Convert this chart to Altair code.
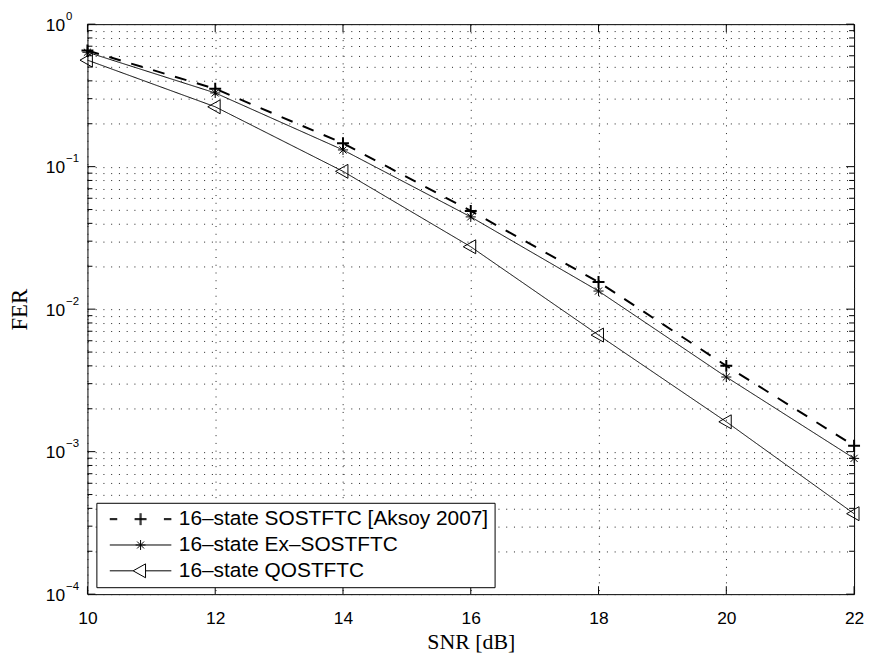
import altair as alt
import pandas as pd

# ---- data ----
snr = [10, 12, 14, 16, 18, 20, 22]
fer_sostftc = [0.653, 0.352, 0.146, 0.0489, 0.0155, 0.0040, 0.0011]
fer_ex = [0.635, 0.329, 0.131, 0.0444, 0.0134, 0.00334, 0.000897]
fer_q = [0.559, 0.263, 0.0927, 0.0274, 0.00658, 0.00162, 0.000367]
series_names = [
    "16–state SOSTFTC [Aksoy 2007]",
    "16–state Ex–SOSTFTC",
    "16–state QOSTFTC",
]
x_ticks = [10, 12, 14, 16, 18, 20, 22]
y_major = [1e-4, 1e-3, 1e-2, 1e-1, 1.0]
y_minor = [k * 10.0 ** e for e in range(-4, 0) for k in range(2, 10)]

rows = []
for name, vals in zip(series_names, [fer_sostftc, fer_ex, fer_q]):
    for s, f in zip(snr, vals):
        rows.append({"series": name, "snr": s, "fer": f})
df = pd.DataFrame(rows)

W, H = 772, 574
SANS = "Liberation Sans"
SERIF = "Liberation Serif"

xs = alt.Scale(domain=[10, 22], nice=False, zero=False)
ys = alt.Scale(type="log", domain=[1e-4, 1], nice=False)

marker_paths = [
    "M-1,0H1M0,-1V1",
    "M-0.85,0H0.85M0,-0.85V0.85M-0.6,-0.6L0.6,0.6M-0.6,0.6L0.6,-0.6",
    "M-1.25,0L0.83,-1.17L0.83,1.17Z",
]
legend_paths = [
    "M-6.2,-0.1H-4.7M-6.2,0.1H-4.7M4.7,-0.1H6.2M4.7,0.1H6.2"
    "M-1.2,-0.1H1.2M-1.2,0.1H1.2M-0.1,-1.2V1.2M0.1,-1.2V1.2",
    "M-6.2,0H6.2M-1,0H1M0,-1V1M-0.7,-0.7L0.7,0.7M-0.7,0.7L0.7,-0.7",
    "M-6.2,0H-1.5M1,0H6.2M-1.5,0L1,-1.4L1,1.4Z",
]

all_y_vals = sorted(y_major + y_minor)
is_decade = "abs(log(datum.value)/LN10 - round(log(datum.value)/LN10)) < 1e-6"

x_axis_main = alt.Axis(
    values=x_ticks, grid=True, gridDash=[1, 6.8], gridColor="#222", gridWidth=1,
    ticks=False, tickSize=0, domain=False, labelFlush=False, labelOverlap=False,
    labelFont=SANS, labelFontSize=17.5, labelColor="black", labelBaseline="top",
    labelPadding=16, format="d",
    title="SNR [dB]", titleFont=SERIF, titleFontSize=22, titleFontWeight="normal",
    titleColor="black", titleX=W / 2, titleY=48, titleBaseline="middle", titleAlign="center",
)
y_axis_main = alt.Axis(
    orient="left", values=all_y_vals, grid=True, gridDash=[1, 6.8], gridColor="#222",
    gridWidth=1, ticks=False, tickSize=0, domain=False, labelOverlap=False, labelFlush=False,
    labelExpr=is_decade + " ? '10' : ''",
    labelFont=SANS, labelFontSize=17.5, labelColor="black", labelAlign="right",
    labelBaseline="middle", labelPadding=23, labelOffset=1,
    title="FER", titleFont=SERIF, titleFontSize=23, titleFontWeight="normal",
    titleColor="black", titleAngle=270, titleX=-68, titleY=H / 2,
    titleBaseline="middle", titleAlign="center",
)
y_axis_exp = alt.Axis(
    orient="left", values=y_major, grid=False, ticks=False, tickSize=0, domain=False,
    labelOverlap=False, labelFlush=False,
    labelExpr="datum.value >= 1 ? '0' : '−' + format(-round(log(datum.value)/LN10), 'd')",
    labelFont=SANS, labelFontSize=11.5, labelColor="black", labelAlign="left",
    labelBaseline="middle", labelPadding=22, labelOffset=-8, title=None,
)

sw_scale = alt.Scale(type="ordinal", domain=series_names, range=[2, 1, 1])

lines = alt.Chart(df).mark_line(color="black").encode(
    x=alt.X("snr:Q", scale=xs, axis=x_axis_main),
    y=alt.Y("fer:Q", scale=ys, axis=y_axis_main),
    strokeDash=alt.StrokeDash(
        "series:N",
        scale=alt.Scale(domain=series_names, range=[[12, 11], [1, 0], [1, 0]]),
        legend=None,
    ),
    strokeWidth=alt.StrokeWidth("series:N", scale=sw_scale, legend=None),
    order="snr:Q",
)

points = alt.Chart(df).mark_point(filled=False, size=144, color="black", opacity=1).encode(
    x=alt.X("snr:Q", scale=xs, axis=None),
    y=alt.Y("fer:Q", scale=ys, axis=y_axis_exp),
    shape=alt.Shape("series:N", scale=alt.Scale(domain=series_names, range=marker_paths), legend=None),
    strokeWidth=alt.StrokeWidth("series:N", scale=sw_scale, legend=None),
)

tx = pd.DataFrame({"snr": x_ticks})
tyM = pd.DataFrame({"fer": y_major})
tym = pd.DataFrame({"fer": y_minor})


def xtick(y0, y1):
    return alt.Chart(tx).mark_rule(color="black", strokeWidth=1).encode(
        x=alt.X("snr:Q", scale=xs, axis=None), y=alt.value(y0), y2=alt.value(y1)
    )


def ytick(data, x0, x1):
    return alt.Chart(data).mark_rule(color="black", strokeWidth=1).encode(
        y=alt.Y("fer:Q", scale=ys, axis=None), x=alt.value(x0), x2=alt.value(x1)
    )


ticks = [
    xtick(H - 8, H), xtick(0, 8),
    ytick(tyM, 0, 8), ytick(tym, 0, 5),
    ytick(tyM, W - 8, W), ytick(tym, W - 5, W),
]

legend_layer = alt.Chart(df).transform_filter("datum.snr < 0").mark_point(
    filled=False, color="black"
).encode(
    x=alt.X("snr:Q", scale=xs, axis=None),
    y=alt.Y("fer:Q", scale=ys, axis=None),
    shape=alt.Shape(
        "series:N",
        scale=alt.Scale(domain=series_names, range=legend_paths),
        legend=alt.Legend(
            title=None, orient="none", legendX=9, legendY=482,
            padding=6, fillColor="white", strokeColor="black", cornerRadius=0,
            symbolSize=100, symbolOffset=28, labelOffset=28,
            symbolStrokeColor="black", symbolFillColor="white", symbolStrokeWidth=1,
            symbolOpacity=1, labelFont=SANS, labelFontSize=21, labelColor="black",
            labelLimit=500, rowPadding=4,
        ),
    ),
)

chart = alt.layer(lines, points, *ticks, legend_layer).resolve_scale(
    shape="independent"
).resolve_axis(x="independent", y="independent").properties(
    width=W, height=H,
    autosize=alt.AutoSizeParams(type="none"),
    padding={"left": 80, "top": 14, "right": 11, "bottom": 57},
    background="white",
).configure_view(stroke="black", strokeWidth=1)

chart.save("out.html", embed_options={"renderer": "svg", "actions": False})
